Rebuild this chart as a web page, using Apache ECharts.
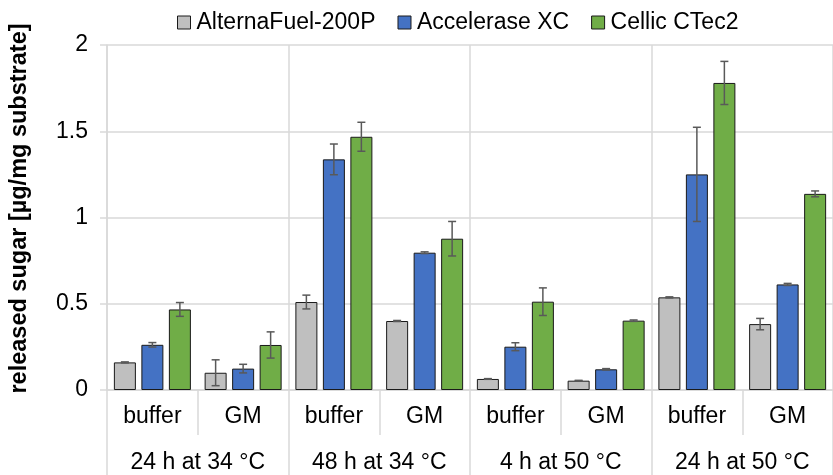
<!DOCTYPE html>
<html>
<head>
<meta charset="utf-8">
<script src="https://cdn.jsdelivr.net/npm/echarts@6/dist/echarts.min.js"></script>
<style>
  html, body { margin: 0; padding: 0; background: #fff; }
  #chart { width: 833px; height: 475px; }
</style>
</head>
<body>
<div id="chart"></div>
<script>
// 数据
var categories = ['buffer', 'GM', 'buffer', 'GM', 'buffer', 'GM', 'buffer', 'GM'];
var conditions = ['24 h at 34 °C', '48 h at 34 °C', '4 h at 50 °C', '24 h at 50 °C'];
var seriesNames = ['AlternaFuel-200P', 'Accelerase XC', 'Cellic CTec2'];

var alterna = [0.16, 0.10, 0.51, 0.40, 0.064, 0.054, 0.537, 0.382];
var alternaErr = [0.003, 0.075, 0.04, 0.003, 0.002, 0.002, 0.003, 0.033];
var accel = [0.262, 0.124, 1.337, 0.796, 0.251, 0.12, 1.25, 0.612];
var accelErr = [0.013, 0.025, 0.089, 0.005, 0.023, 0.004, 0.273, 0.006];
var cellic = [0.467, 0.261, 1.468, 0.877, 0.512, 0.402, 1.78, 1.137];
var cellicErr = [0.04, 0.076, 0.084, 0.1, 0.08, 0.004, 0.125, 0.017];

var yTicks = [0, 0.5, 1, 1.5, 2];

var colors = ['#BFBFBF', '#4472C4', '#70AD47'];
var barWidth = 22;
var barGapRatio = 0.25;

var myChart = echarts.init(document.getElementById('chart'));

// 误差线
function errorSeries (values, errs, k) {
  var data = values.map(function (v, i) { return [i, v, errs[i]]; });
  return {
    type: 'custom',
    xAxisIndex: 0,
    z: 10,
    silent: true,
    data: data,
    renderItem: function (params, api) {
      var i = api.value(0);
      var v = api.value(1);
      var e = api.value(2);
      var off = (k - 1) * barWidth * (1 + barGapRatio);
      var hi = api.coord([i, v + e]);
      var lo = api.coord([i, v - e]);
      var x = hi[0] + off;
      var cap = 4;
      var style = { stroke: '#595959', lineWidth: 1.5 };
      return {
        type: 'group',
        children: [
          { type: 'line', shape: { x1: x, y1: hi[1], x2: x, y2: lo[1] }, style: style },
          { type: 'line', shape: { x1: x - cap, y1: hi[1], x2: x + cap, y2: hi[1] }, style: style },
          { type: 'line', shape: { x1: x - cap, y1: lo[1], x2: x + cap, y2: lo[1] }, style: style }
        ]
      };
    }
  };
}

function barSeries (name, values, k) {
  return {
    name: name,
    type: 'bar',
    xAxisIndex: 0,
    barWidth: barWidth,
    barGap: (barGapRatio * 100) + '%',
    data: values,
    itemStyle: { color: colors[k], borderColor: '#1a1a1a', borderWidth: 1 }
  };
}

var option = {
  animation: false,
  textStyle: { fontFamily: 'Liberation Sans, Arial, sans-serif' },
  color: colors,
  legend: {
    top: 6,
    left: 172,
    icon: 'rect',
    itemWidth: 13,
    itemHeight: 13,
    itemGap: 22,
    data: seriesNames,
    textStyle: { fontSize: 23, color: '#000', padding: [0, 0, 0, 1] },
    itemStyle: { borderColor: '#1a1a1a', borderWidth: 1 }
  },
  grid: {
    left: 107,
    right: -8,
    top: 45,
    bottom: 85
  },
  xAxis: [{
    type: 'category',
    position: 'bottom',
    data: categories,
    axisLine: { onZero: false, lineStyle: { color: '#d9d9d9', width: 1.5 } },
    axisTick: { show: true, length: 45, interval: 0, lineStyle: { color: '#d9d9d9', width: 1.5 } },
    axisLabel: { interval: 0, margin: 15, fontSize: 23, color: '#000' },
    splitLine: { show: false }
  }, {
    type: 'category',
    position: 'bottom',
    data: conditions,
    axisLine: { show: false, onZero: false },
    axisTick: { show: true, length: 85, interval: 0, lineStyle: { color: '#d9d9d9', width: 1.5 } },
    axisLabel: { interval: 0, margin: 61, fontSize: 23, color: '#000' },
    splitLine: { show: true, interval: 0, lineStyle: { color: '#d9d9d9', width: 1.5 } }
  }],
  yAxis: {
    type: 'value',
    min: yTicks[0],
    max: yTicks[yTicks.length - 1],
    interval: 0.5,
    name: 'released sugar [µg/mg substrate]',
    nameLocation: 'middle',
    nameGap: 75,
    nameTextStyle: { fontSize: 23.5, fontWeight: 'bold', color: '#000', padding: [0, 0, 0, 18] },
    axisLine: { show: true, lineStyle: { color: '#d9d9d9', width: 1.5 } },
    axisTick: { show: true, length: 7, lineStyle: { color: '#d9d9d9', width: 1.5 } },
    axisLabel: { margin: 19, fontSize: 23, color: '#000' },
    splitLine: { lineStyle: { color: '#d9d9d9', width: 1.5 } }
  },
  series: [
    barSeries(seriesNames[0], alterna, 0),
    barSeries(seriesNames[1], accel, 1),
    barSeries(seriesNames[2], cellic, 2),
    errorSeries(alterna, alternaErr, 0),
    errorSeries(accel, accelErr, 1),
    errorSeries(cellic, cellicErr, 2)
  ]
};

myChart.setOption(option);
window.addEventListener('resize', function () {
  myChart.resize();
});
</script>
</body>
</html>
